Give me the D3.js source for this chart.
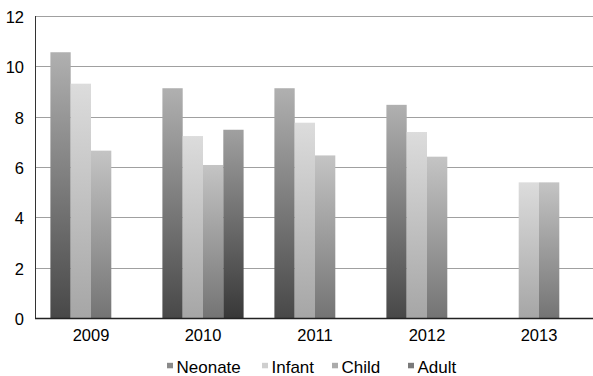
<!DOCTYPE html>
<html><head><meta charset="utf-8">
<script src="https://cdn.jsdelivr.net/npm/d3@7"></script>
<style>body{margin:0;background:#fff}svg{display:block}text{font-family:"Liberation Sans",Arial,sans-serif;fill:#000}</style>
</head><body>
<svg id="c" width="593" height="376"></svg>
<script>
const years = ["2009","2010","2011","2012","2013"];
const seriesNames = ["Neonate","Infant","Child","Adult"];
const neonate = [10.56, 9.13, 9.13, 8.47, null];
const infant  = [9.31, 7.23, 7.76, 7.39, 5.39];
const child   = [6.65, 6.08, 6.46, 6.41, 5.39];
const adult   = [null, 7.48, null, null, null];
const yTicks = [0,2,4,6,8,10,12];

const seriesValues = [neonate, infant, child, adult];
const gradTop = ["#b0b0b0","#dcdcdc","#c4c4c4","#a0a0a0"];
const gradBot = ["#484848","#a6a6a6","#747474","#383838"];
const legendCol = ["#8a8a8a","#cfcfcf","#ababab","#7a7a7a"];

const svg = d3.select("#c");
const pL = 35, pR = 595, pT = 16, pB = 318;
const x0 = d3.scaleBand().domain(years).range([pL, pR]).paddingInner(0.275).paddingOuter(0.1375);
const x1 = d3.scaleBand().domain(seriesNames).range([0, x0.bandwidth()]);
const y = d3.scaleLinear().domain([0,12]).range([pB, pT]);

const defs = svg.append("defs");
seriesNames.forEach((s,i)=>{
  const g = defs.append("linearGradient").attr("id","g"+i).attr("x1",0).attr("y1",0).attr("x2",0).attr("y2",1);
  g.append("stop").attr("offset","0%").attr("stop-color",gradTop[i]);
  g.append("stop").attr("offset","100%").attr("stop-color",gradBot[i]);
});

// gridlines
svg.append("g").selectAll("line").data(yTicks.filter(t=>t>0)).join("line")
  .attr("x1",pL).attr("x2",593).attr("y1",d=>Math.round(y(d))+0.5).attr("y2",d=>Math.round(y(d))+0.5)
  .attr("stroke","#a0a0a0").attr("stroke-width",1);

// y labels
svg.append("g").selectAll("text").data(yTicks).join("text")
  .attr("x",24).attr("y",d=>y(d)+7).attr("text-anchor","end").attr("font-size",16.5).text(d=>d);

// bars
const rows = [];
years.forEach((yr,j)=>seriesNames.forEach((s,i)=>{ const v=seriesValues[i][j]; if(v!=null) rows.push({yr,s,i,v}); }));
svg.append("g").selectAll("rect").data(rows).join("rect")
  .attr("x",d=>x0(d.yr)+x1(d.s)).attr("width",x1.bandwidth())
  .attr("y",d=>y(d.v)).attr("height",d=>pB-y(d.v))
  .attr("fill",d=>`url(#g${d.i})`);

// axes lines
svg.append("line").attr("x1",pL+0.5).attr("x2",pL+0.5).attr("y1",pT).attr("y2",pB).attr("stroke","#333").attr("stroke-width",1);
svg.append("line").attr("x1",pL).attr("x2",593).attr("y1",pB+0.5).attr("y2",pB+0.5).attr("stroke","#222").attr("stroke-width",1.3);

// x labels
svg.append("g").selectAll("text").data(years).join("text")
  .attr("x",d=>x0(d)+x0.bandwidth()/2).attr("y",341.3).attr("text-anchor","middle").attr("font-size",16.5).text(d=>d);

// legend
const legX = [167,262,332,408];
const lg = svg.append("g").selectAll("g").data(seriesNames).join("g").attr("transform",(d,i)=>`translate(${legX[i]},0)`);
lg.append("rect").attr("x",0).attr("y",362.8).attr("width",6).attr("height",5.5).attr("fill",(d,i)=>legendCol[i]);
lg.append("text").attr("x",9.5).attr("y",373.3).attr("font-size",17).text(d=>d);
</script>
</body></html>
